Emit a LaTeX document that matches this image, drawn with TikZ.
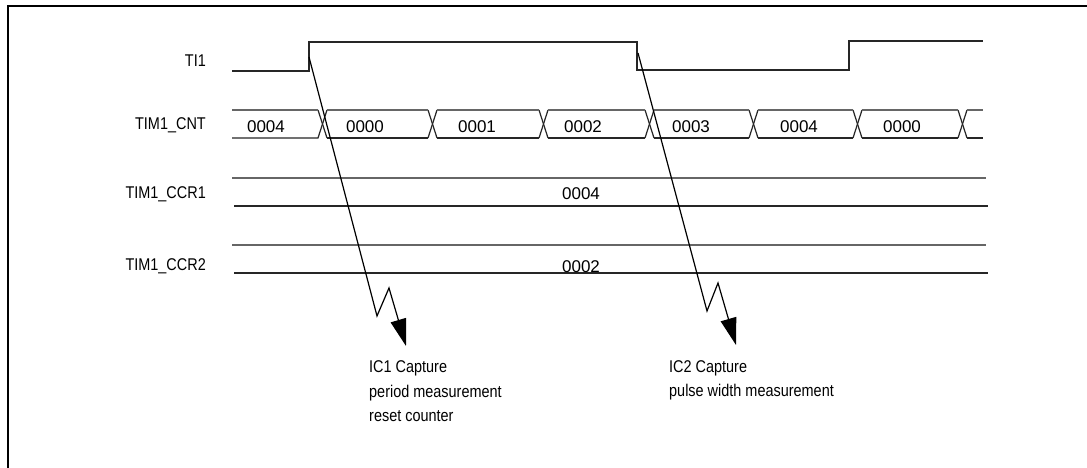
\documentclass[tikz,border=0pt]{standalone}
\usepackage{fontspec}
\setmainfont{Liberation Sans}
\usetikzlibrary{arrows.meta}
\newcommand\nrw[1]{\scalebox{0.85}[1]{#1}}
\begin{document}
\begin{tikzpicture}[x=1pt,y=-1pt, font=\fontsize{17}{20}\selectfont,
  sig/.style={line width=1.2pt, draw=black!85},
  bustop/.style={line width=1.2pt, draw=black!60},
  busbot/.style={line width=1.2pt, draw=black!85},
  lbl/.style={anchor=base east, inner sep=0pt},
  val/.style={anchor=base, inner sep=0pt},
  txt/.style={anchor=base west, inner sep=0pt},
  capt/.style={line width=1.2pt, line join=miter, -{Triangle[length=27pt,width=16pt]}}]
\useasboundingbox (0,0) rectangle (1087,468);
\fill[white] (0,0) rectangle (1087,468);
\draw[line width=2.5pt] (8,468) -- (8,6) -- (1087,6);

% labels
\node[lbl] (lti) at (206,67) {\nrw{TI1}};
\node[lbl] (lcnt) at (206,130) {\nrw{TIM1\_CNT}};
\node[lbl] (lccr1) at (206,198) {\nrw{TIM1\_CCR1}};
\node[lbl] (lccr2) at (206,270) {\nrw{TIM1\_CCR2}};

% TI1 signal
\draw[sig] (232,71) -- (309,71) -- (309,42) -- (637,42) -- (637,70) -- (849,70) -- (849,41) -- (983,41);

% counter bus
\def\bt{110}\def\bb{138}
\draw[busbot] (232,\bb) -- (318,\bb) -- (327,\bt) (428,\bb) -- (437,\bt) (539,\bb) -- (548,\bt) (645,\bb) -- (654,\bt) (749,\bb) -- (758,\bt) (853,\bb) -- (862,\bt) (958,\bb) -- (967,\bt);
\draw[busbot] (327,\bb) -- (428,\bb) (437,\bb) -- (539,\bb) (548,\bb) -- (645,\bb) (654,\bb) -- (749,\bb) (758,\bb) -- (853,\bb) (862,\bb) -- (958,\bb) (967,\bb) -- (983,\bb);
\draw[busbot] (318,\bt) -- (327,\bb) (428,\bt) -- (437,\bb) (539,\bt) -- (548,\bb) (645,\bt) -- (654,\bb) (749,\bt) -- (758,\bb) (853,\bt) -- (862,\bb) (958,\bt) -- (967,\bb);
\draw[bustop] (232,\bt) -- (318,\bt) (327,\bt) -- (428,\bt) (437,\bt) -- (539,\bt) (548,\bt) -- (645,\bt) (654,\bt) -- (749,\bt) (758,\bt) -- (853,\bt) (862,\bt) -- (958,\bt) (967,\bt) -- (983,\bt);
\node[val] (v1) at (266,133) {0004};
\node[val] (v2) at (365,133) {0000};
\node[val] (v3) at (477,133) {0001};
\node[val] (v4) at (583,133) {0002};
\node[val] (v5) at (691,133) {0003};
\node[val] (v6) at (799,133) {0004};
\node[val] (v7) at (902,133) {0000};

% CCR1 / CCR2
\draw[bustop] (232,178) -- (986,178);
\draw[busbot] (234,206) -- (988,206);
\node[val] (c1) at (581,199) {0004};
\draw[bustop] (232,245) -- (986,245);
\draw[busbot] (234,273) -- (988,273);
\node[val] (c2) at (581,272) {0002};

% capture arrows
\coordinate (s1) at (309,57);
\coordinate (k1) at (377,316);
\coordinate (m1) at (389,288);
\coordinate (t1) at (406,346);
\draw[capt] (s1) -- (k1) -- (m1) -- (t1);
\coordinate (s2) at (638,53);
\coordinate (k2) at (707,311);
\coordinate (m2) at (718,283);
\coordinate (t2) at (736,345);
\draw[capt] (s2) -- (k2) -- (m2) -- (t2);

% captions
\node[txt] (a1) at (369,372) {\nrw{IC1 Capture}};
\node[txt] (a2) at (369,397) {\nrw{period measurement}};
\node[txt] (a3) at (369,421) {\nrw{reset counter}};
\node[txt] (b1) at (669,372) {\nrw{IC2 Capture}};
\node[txt] (b2) at (669,396) {\nrw{pulse width measurement}};
\end{tikzpicture}
\end{document}
